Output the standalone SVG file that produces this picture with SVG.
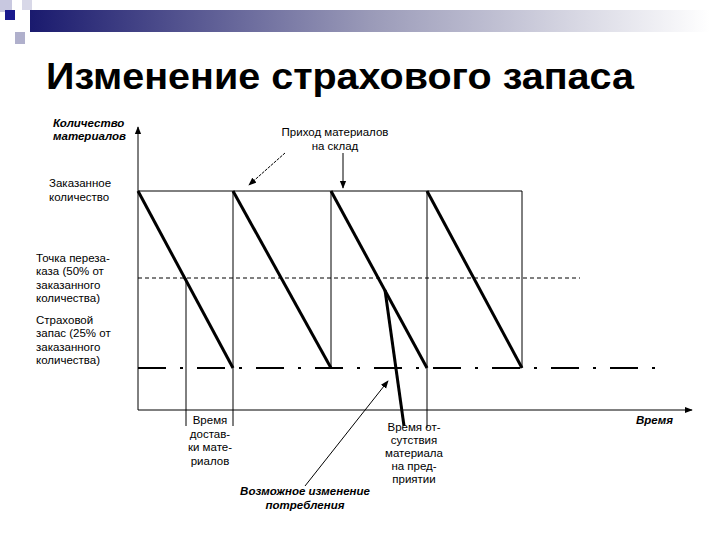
<svg xmlns="http://www.w3.org/2000/svg" width="720" height="540" viewBox="0 0 720 540">
<defs>
<linearGradient id="g" x1="0" x2="1" y1="0" y2="0"><stop offset="0" stop-color="#1a1a6e"/><stop offset="0.5" stop-color="#9a9ab8"/><stop offset="1" stop-color="#ffffff"/></linearGradient>
<marker id="a" viewBox="0 0 10 10" refX="9" refY="5" markerWidth="8" markerHeight="8" orient="auto"><path d="M0,1 L10,5 L0,9 z" fill="#000"/></marker>
<style>
.t{font-family:"Liberation Sans",Arial,sans-serif;font-size:11.5px;fill:#000}
.i{font-style:italic;font-weight:bold}
.c{text-anchor:middle}
.thin{stroke:#000;stroke-width:1;fill:none}
.thick{stroke:#000;stroke-width:3;fill:none}
</style>
</defs>
<rect width="720" height="540" fill="#fff"/>
<g id="header">
<rect x="30" y="10" width="680" height="22" fill="url(#g)"/>
<rect x="0" y="0" width="12" height="12" fill="#c8c8e0"/>
<rect x="5" y="10" width="10" height="10" fill="#1a1a8e"/>
<rect x="15" y="32" width="10" height="12" fill="#b0b0cc"/>
<rect x="22" y="0" width="10" height="10" fill="#d8d8e8"/>
</g>
<text x="46" y="89" font-family="Liberation Sans,Arial,sans-serif" font-size="36" font-weight="bold" textLength="588" lengthAdjust="spacingAndGlyphs">Изменение страхового запаса</text>
<g id="axes">
<line class="thin" x1="138" y1="410" x2="138" y2="127" marker-end="url(#a)"/>
<line class="thin" x1="138" y1="410" x2="692" y2="410" marker-end="url(#a)"/>
<line class="thin" x1="138" y1="191" x2="522" y2="191"/>
<line class="thin" x1="138" y1="278" x2="580" y2="278" stroke-dasharray="4 3"/>
<line x1="138" y1="368" x2="656" y2="368" stroke="#000" stroke-width="2" stroke-dasharray="28 14 3 14"/>
</g>
<g id="connectors">
<line class="thick" x1="138" y1="191" x2="233" y2="368"/>
<line class="thick" x1="233" y1="191" x2="331" y2="368"/>
<line class="thick" x1="331" y1="191" x2="427" y2="368"/>
<line class="thick" x1="427" y1="191" x2="522" y2="368"/>
<line class="thick" x1="385" y1="290" x2="404" y2="426"/>
<line class="thin" x1="233" y1="191" x2="233" y2="426"/>
<line class="thin" x1="331" y1="191" x2="331" y2="368"/>
<line class="thin" x1="427" y1="191" x2="427" y2="428"/>
<line class="thin" x1="522" y1="191" x2="522" y2="368"/>
<line class="thin" x1="186" y1="278" x2="186" y2="426"/>
<line class="thin" x1="285" y1="153" x2="249" y2="185" stroke-dasharray="3 1" marker-end="url(#a)"/>
<line class="thin" x1="343" y1="153" x2="343" y2="188" marker-end="url(#a)"/>
<line class="thin" x1="305" y1="486" x2="388" y2="381" marker-end="url(#a)"/>
</g>
<g id="labels">
<text class="t i" x="53" y="127">Количество</text>
<text class="t i" x="53" y="140">материалов</text>
<text class="t c" x="335" y="136">Приход материалов</text>
<text class="t c" x="335" y="150">на склад</text>
<text class="t" x="49" y="187">Заказанное</text>
<text class="t" x="49" y="201">количество</text>
<text class="t" x="36" y="262">Точка переза-</text>
<text class="t" x="36" y="275">каза (50% от</text>
<text class="t" x="36" y="289">заказанного</text>
<text class="t" x="36" y="302">количества)</text>
<text class="t" x="36" y="324">Страховой</text>
<text class="t" x="36" y="337">запас (25% от</text>
<text class="t" x="36" y="351">заказанного</text>
<text class="t" x="36" y="364">количества)</text>
<text class="t c" x="210" y="424">Время</text>
<text class="t c" x="210" y="438">достав-</text>
<text class="t c" x="210" y="451">ки мате-</text>
<text class="t c" x="210" y="465">риалов</text>
<text class="t c" x="414" y="431">Время от-</text>
<text class="t c" x="414" y="444">сутствия</text>
<text class="t c" x="414" y="457">материала</text>
<text class="t c" x="414" y="470">на пред-</text>
<text class="t c" x="414" y="483">приятии</text>
<text class="t i" x="636" y="424">Время</text>
<text class="t i c" x="305" y="495">Возможное изменение</text>
<text class="t i c" x="305" y="509">потребления</text>
</g>
</svg>
